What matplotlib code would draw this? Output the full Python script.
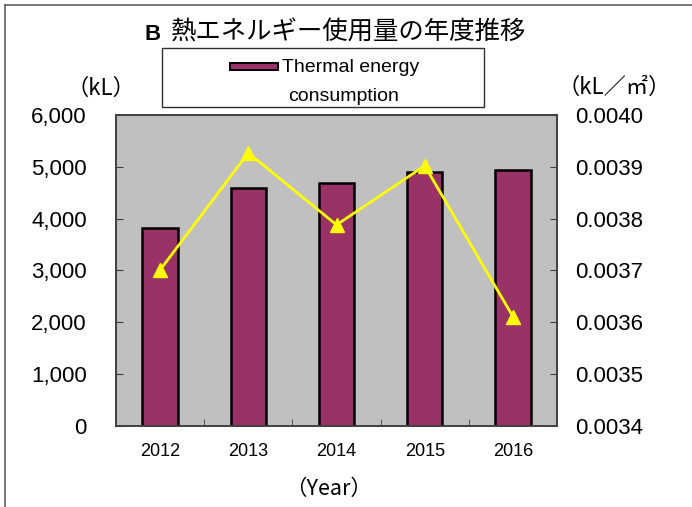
import matplotlib
matplotlib.use("Agg")
import matplotlib.pyplot as plt
from matplotlib.patches import Rectangle
from matplotlib.lines import Line2D
from matplotlib.ticker import FuncFormatter, FixedLocator
import numpy as np

plt.rcParams['font.family'] = ['Liberation Sans', 'Noto Sans CJK JP', 'DejaVu Sans']

# ---- data ----
years = ["2012", "2013", "2014", "2015", "2016"]
energy_kl = [3815, 4590, 4690, 4895, 4940]          # bars, left axis (kL)
intensity = [0.003701, 0.003927, 0.003788, 0.003902, 0.003611]  # line, right axis (kL/m2)
left_ticks = [0, 1000, 2000, 3000, 4000, 5000, 6000]
right_ticks = [0.0034, 0.0035, 0.0036, 0.0037, 0.0038, 0.0039, 0.0040]

title_prefix = "B"
title_main = "熱エネルギー使用量の年度推移"
legend_label = ["Thermal energy", "consumption"]

fig = plt.figure(figsize=(6.92, 5.07), dpi=100)
ax = fig.add_axes([0.1676, 0.1598, 0.805 - 0.1676, 0.7732 - 0.1598])
ax.set_facecolor("#C0C0C0")

x = np.arange(len(years))
ax.bar(x, energy_kl, width=0.4, color="#993366", edgecolor="black", linewidth=1.8, zorder=2)
ax.set_xlim(-0.5, len(years) - 0.5)
ax.set_ylim(0, 6000)
ax.set_yticks(left_ticks)
ax.yaxis.set_major_formatter(FuncFormatter(lambda v, p: f"{int(v):,}"))
ax.set_xticks(x)
ax.set_xticklabels(years, fontsize=13)
ax.xaxis.set_minor_locator(FixedLocator(np.arange(0.5, len(years) - 1, 1.0)))
ax.tick_params(axis='x', which='major', length=0, pad=12)
ax.tick_params(axis='x', which='minor', direction='in', length=5, color="#404040")
ax.tick_params(axis='y', direction='in', length=5, labelsize=16, pad=21, color="#404040")
for s in ax.spines.values():
    s.set_color("#404040")
    s.set_linewidth(1.2)

ax2 = ax.twinx()
ax2.plot(x, intensity, color="#FFFF00", linewidth=2, marker="^", markersize=10,
         markerfacecolor="#FFFF00", markeredgecolor="#FFFF00", zorder=3)
ax2.set_ylim(0.0034, 0.0040)
ax2.set_yticks(right_ticks)
ax2.yaxis.set_major_formatter(FuncFormatter(lambda v, p: f"{v:.4f}"))
ax2.tick_params(axis='y', direction='in', length=5, labelsize=16, pad=13, color="#404040")
for s in ax2.spines.values():
    s.set_color("#404040")
    s.set_linewidth(1.2)

# title
fig.text(145 / 692, 1 - 34 / 507, title_prefix, ha='left', va='center', fontsize=16,
         fontweight='bold', family=['Liberation Sans'])
fig.text(171 / 692, 1 - 33 / 507, title_main, ha='left', va='center', fontsize=18.3,
         family=['Noto Sans CJK JP'])

# axis unit labels
fig.text(100.5 / 692, 1 - 88 / 507, "（kL）", ha='center', va='center', fontsize=16,
         family=['Noto Sans CJK JP'])
fig.text(614 / 692, 1 - 87 / 507, "（kL／㎡）", ha='center', va='center', fontsize=16,
         family=['Noto Sans CJK JP'])
fig.text(329 / 692, 1 - 489 / 507, "（Year）", ha='center', va='center', fontsize=15.5,
         family=['Noto Sans CJK JP'])

# legend box
fig.patches.append(Rectangle((162 / 692, 1 - 107 / 507), 322 / 692, 59 / 507,
                             transform=fig.transFigure, facecolor='white',
                             edgecolor='#303030', linewidth=1.0))
fig.patches.append(Rectangle((230 / 692, 1 - 69.5 / 507), 48 / 692, 7 / 507,
                             transform=fig.transFigure, facecolor='#993366',
                             edgecolor='black', linewidth=1.4))
fig.text(282 / 692, 1 - 67 / 507, legend_label[0], ha='left', va='center', fontsize=14)
fig.text(343.5 / 692, 1 - 96.5 / 507, legend_label[1], ha='center', va='center', fontsize=14)

# outer frame lines (top and left)
fig.add_artist(Line2D([4.5 / 692, 4.5 / 692], [0, 1 - 4.5 / 507], transform=fig.transFigure,
                      color='#606060', linewidth=1.2))
fig.add_artist(Line2D([4.5 / 692, 1], [1 - 4.5 / 507, 1 - 4.5 / 507], transform=fig.transFigure,
                      color='#606060', linewidth=1.2))

fig.savefig("out.png", dpi=100)
